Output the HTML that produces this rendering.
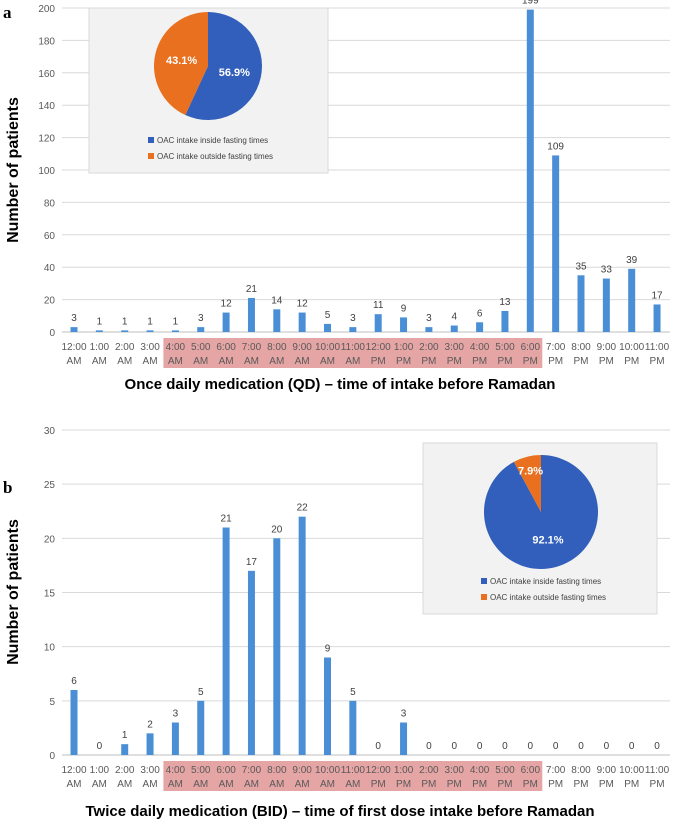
<!DOCTYPE html>
<html><head><meta charset="utf-8"><style>
body{margin:0;background:#fff;width:685px;height:825px;overflow:hidden;font-family:"Liberation Sans",sans-serif}
svg text{font-family:"Liberation Sans",sans-serif}
</style></head><body>
<svg id="s" width="685" height="825" xmlns="http://www.w3.org/2000/svg">
<text x="3" y="18" style="font-family:'Liberation Serif',serif" font-weight="bold" font-size="17">a</text>
<text x="3" y="493" style="font-family:'Liberation Serif',serif" font-weight="bold" font-size="17">b</text>
<text transform="translate(18,170) rotate(-90)" text-anchor="middle" font-weight="bold" font-size="16">Number of patients</text>
<text transform="translate(18,592) rotate(-90)" text-anchor="middle" font-weight="bold" font-size="16">Number of patients</text>
<text x="340" y="389" text-anchor="middle" font-weight="bold" font-size="15">Once daily medication (QD) – time of intake before Ramadan</text>
<text x="340" y="816" text-anchor="middle" font-weight="bold" font-size="15">Twice daily medication (BID) – time of first dose intake before Ramadan</text>
</svg>
<script>
const hours=["12:00","1:00","2:00","3:00","4:00","5:00","6:00","7:00","8:00","9:00","10:00","11:00","12:00","1:00","2:00","3:00","4:00","5:00","6:00","7:00","8:00","9:00","10:00","11:00"];
const qdValues=[3,1,1,1,1,3,12,21,14,12,5,3,11,9,3,4,6,13,199,109,35,33,39,17];
const bidValues=[6,0,1,2,3,5,21,17,20,22,9,5,0,3,0,0,0,0,0,0,0,0,0,0];
const qdTicks=[0,20,40,60,80,100,120,140,160,180,200];
const bidTicks=[0,5,10,15,20,25,30];
const qdPie=[56.9,43.1];
const bidPie=[92.1,7.9];
const NS="http://www.w3.org/2000/svg";
const s=document.getElementById('s');
function mk(t,a,txt){const e=document.createElementNS(NS,t);for(const k in a)e.setAttribute(k,a[k]);if(txt!==undefined)e.textContent=txt;s.appendChild(e);return e;}
function chart(p,vals,ticks,y0,y1,max,pie,box){
  const xc=i=>74+i*25.35, y=v=>y0-(v/max)*(y0-y1);
  mk('rect',{x:xc(4)-12,y:y0+6,width:xc(18)-xc(4)+24,height:30,fill:'#e6a5a5'});
  ticks.forEach(t=>{
    const l=mk('line',{x1:62,x2:670,y1:y(t),y2:y(t),stroke:t==0?'#bfbfbf':'#d9d9d9','stroke-width':1});
    
    const tx=mk('text',{x:55,y:y(t)+4,'text-anchor':'end','font-size':10,fill:'#595959'},t);
    
  });
  vals.forEach((v,i)=>{
    const b=mk('rect',{x:xc(i)-3.5,y:y(v),width:7,height:y0-y(v),fill:'#4a8fd6'});
    
    const vl=mk('text',{x:xc(i),y:y(v)-6,'text-anchor':'middle','font-size':10,fill:'#404040'},v);
    
    const h=mk('text',{x:xc(i),y:y0+18,'text-anchor':'middle','font-size':10,fill:'#595959'},hours[i]);
    
    const ap=mk('text',{x:xc(i),y:y0+32,'text-anchor':'middle','font-size':10,fill:'#595959'},i<12?'AM':'PM');
    
  });
  const [bx,by,bw,bh,cx,cy,r]=box;
  const ib=mk('rect',{x:bx,y:by,width:bw,height:bh,fill:'#f2f2f2',stroke:'#d9d9d9'});
  
  const tot=pie[0]+pie[1];let a0=0;const cols=['#325fbb','#e8701e'];
  pie.forEach((v,k)=>{
    const a1=a0+v/tot*2*Math.PI;
    const x0=cx+r*Math.sin(a0),y0p=cy-r*Math.cos(a0),x1=cx+r*Math.sin(a1),y1p=cy-r*Math.cos(a1);
    const pth=mk('path',{d:`M${cx},${cy}L${x0},${y0p}A${r},${r} 0 ${a1-a0>Math.PI?1:0} 1 ${x1},${y1p}Z`,fill:cols[k]});
    
    const am=(a0+a1)/2, rr=(v/tot<0.15)?r*0.75:r*0.5;
    const tl=mk('text',{x:cx+rr*Math.sin(am),y:cy-rr*Math.cos(am)+4,'text-anchor':'middle','font-size':11,'font-weight':'bold',fill:'#fff'},v.toFixed(1)+'%');
    
    a0=a1;
  });
  const ly=by+bh-30;
  ['OAC intake inside fasting times','OAC intake outside fasting times'].forEach((t,k)=>{
    mk('rect',{x:cx-60,y:ly+k*16-6,width:6,height:6,fill:cols[k]});
    const lt=mk('text',{x:cx-51,y:ly+k*16,'font-size':8,fill:'#404040'},t);
    
  });
}
chart('a',qdValues,qdTicks,332,8,200,qdPie,[89,8,239,165,208,66,54]);
chart('b',bidValues,bidTicks,755,430,30,bidPie,[423,443,234,171,541,512,57]);
</script>
</body></html>
